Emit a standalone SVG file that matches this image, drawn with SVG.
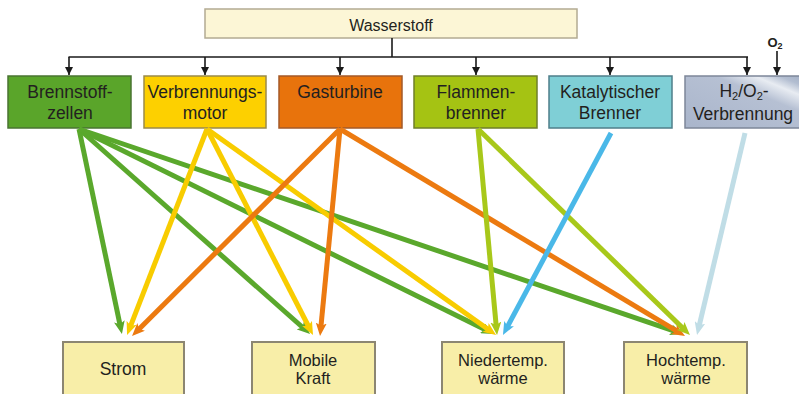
<svg xmlns="http://www.w3.org/2000/svg" width="799" height="394" viewBox="0 0 799 394">
<style>
  text { font-family: "Liberation Sans", Arial, sans-serif; fill: #231f20; }
  .lbl { font-size: 17.5px; text-anchor: middle; }
  .lb2 { font-size: 16.5px; text-anchor: middle; }
  .top { stroke-width: 1.5; }
  .bot { fill: #f8eea8; stroke: #8c8672; stroke-width: 2; }
  .bus { stroke: #1a1a1a; stroke-width: 1.6; fill: none; }
  .arr { stroke-width: 5; fill: none; stroke-linecap: butt; }
  .sub { font-size: 11px; }
</style>
<defs>
  <marker id="mk" viewBox="0 0 8 8" refX="8" refY="4" markerWidth="8" markerHeight="8" markerUnits="userSpaceOnUse" orient="auto">
    <path d="M0,0 L8,4 L0,8 z" fill="#1a1a1a"/>
  </marker>
  <marker id="aG" viewBox="0 0 13 11" refX="4" refY="5.5" markerWidth="13" markerHeight="11" markerUnits="userSpaceOnUse" orient="auto"><path d="M0,0 L13,5.5 L0,11 L3,5.5 z" fill="#5aa82c"/></marker>
  <marker id="aY" viewBox="0 0 13 11" refX="4" refY="5.5" markerWidth="13" markerHeight="11" markerUnits="userSpaceOnUse" orient="auto"><path d="M0,0 L13,5.5 L0,11 L3,5.5 z" fill="#f8cc00"/></marker>
  <marker id="aO" viewBox="0 0 13 11" refX="4" refY="5.5" markerWidth="13" markerHeight="11" markerUnits="userSpaceOnUse" orient="auto"><path d="M0,0 L13,5.5 L0,11 L3,5.5 z" fill="#ec7a10"/></marker>
  <marker id="aL" viewBox="0 0 13 11" refX="4" refY="5.5" markerWidth="13" markerHeight="11" markerUnits="userSpaceOnUse" orient="auto"><path d="M0,0 L13,5.5 L0,11 L3,5.5 z" fill="#a8c81a"/></marker>
  <marker id="aB" viewBox="0 0 13 11" refX="4" refY="5.5" markerWidth="13" markerHeight="11" markerUnits="userSpaceOnUse" orient="auto"><path d="M0,0 L13,5.5 L0,11 L3,5.5 z" fill="#4ab8e8"/></marker>
  <marker id="aP" viewBox="0 0 13 11" refX="4" refY="5.5" markerWidth="13" markerHeight="11" markerUnits="userSpaceOnUse" orient="auto"><path d="M0,0 L13,5.5 L0,11 L3,5.5 z" fill="#c0dde6"/></marker>
  <linearGradient id="gH" x1="0" y1="1" x2="1" y2="0">
    <stop offset="0" stop-color="#a9b5cb"/>
    <stop offset="0.62" stop-color="#b6c0d3"/>
    <stop offset="0.78" stop-color="#e8ecf2"/>
    <stop offset="0.88" stop-color="#b3bed1"/>
    <stop offset="1" stop-color="#9eabc2"/>
  </linearGradient>
</defs>

<g id="wasserstoff">
  <rect x="205" y="9" width="372" height="29" fill="#fcf6d6" stroke="#b3ab92" stroke-width="1.5"/>
  <text x="391" y="31" style="font-size:16px" text-anchor="middle">Wasserstoff</text>
</g>

<g id="connectors-top">
  <line class="bus" x1="392" y1="38" x2="392" y2="57"/>
  <line class="bus" x1="68.5" y1="57" x2="748" y2="57"/>
  <line class="bus" x1="69" y1="57" x2="69" y2="75" marker-end="url(#mk)"/>
  <line class="bus" x1="205" y1="57" x2="205" y2="75" marker-end="url(#mk)"/>
  <line class="bus" x1="340" y1="57" x2="340" y2="75" marker-end="url(#mk)"/>
  <line class="bus" x1="476" y1="57" x2="476" y2="75" marker-end="url(#mk)"/>
  <line class="bus" x1="610" y1="57" x2="610" y2="75" marker-end="url(#mk)"/>
  <line class="bus" x1="747" y1="57" x2="747" y2="75" marker-end="url(#mk)"/>
  <line class="bus" x1="777" y1="51" x2="777" y2="75" marker-end="url(#mk)"/>
  <text x="775" y="47" style="font-size:13px;font-weight:bold" text-anchor="middle">O<tspan style="font-size:9px" dy="2">2</tspan></text>
</g>

<g id="brennstoffzellen">
  <rect class="top" x="8" y="76" width="123" height="52" fill="#5aa52a" stroke="#4a7432"/>
  <text class="lbl" x="70" y="98">Brennstoff-</text>
  <text class="lbl" x="70" y="119">zellen</text>
</g>
<g id="verbrennungsmotor">
  <rect class="top" x="144" y="76" width="122" height="52" fill="#fdd000" stroke="#9b8a4a"/>
  <text class="lbl" x="205" y="98">Verbrennungs-</text>
  <text class="lbl" x="205" y="119">motor</text>
</g>
<g id="gasturbine">
  <rect class="top" x="279" y="76" width="123" height="52" fill="#e8730c" stroke="#a45a28"/>
  <text class="lbl" x="340" y="98">Gasturbine</text>
</g>
<g id="flammenbrenner">
  <rect class="top" x="414" y="76" width="123" height="52" fill="#a5c313" stroke="#6f7f2a"/>
  <text class="lbl" x="476" y="98">Flammen-</text>
  <text class="lbl" x="476" y="119">brenner</text>
</g>
<g id="katalytischer-brenner">
  <rect class="top" x="549" y="76" width="123" height="52" fill="#7fcfd6" stroke="#4f7f8a"/>
  <text class="lbl" x="610" y="98">Katalytischer</text>
  <text class="lbl" x="610" y="119">Brenner</text>
</g>
<g id="h2o2-verbrennung">
  <rect class="top" x="685" y="76" width="124" height="52" fill="url(#gH)" stroke="#7d8799"/>
  <text class="lbl" x="744" y="97">H<tspan class="sub" dy="3">2</tspan><tspan dy="-3">/O</tspan><tspan class="sub" dy="3">2</tspan><tspan dy="-3">-</tspan></text>
  <text class="lbl" x="743" y="120">Verbrennung</text>
</g>

<g id="strom">
  <rect class="bot" x="63" y="342" width="121" height="60"/>
  <text class="lbl" x="123" y="375">Strom</text>
</g>
<g id="mobile-kraft">
  <rect class="bot" x="252" y="342" width="123" height="60"/>
  <text class="lb2" x="313" y="366">Mobile</text>
  <text class="lb2" x="313" y="384">Kraft</text>
</g>
<g id="niedertemp-waerme">
  <rect class="bot" x="442" y="342" width="122" height="60"/>
  <text class="lb2" x="503" y="366">Niedertemp.</text>
  <text class="lb2" x="503" y="384">wärme</text>
</g>
<g id="hochtemp-waerme">
  <rect class="bot" x="624" y="342" width="123" height="60"/>
  <text class="lb2" x="686" y="366">Hochtemp.</text>
  <text class="lb2" x="686" y="384">wärme</text>
</g>

<g id="connectors">
  <line class="arr" stroke="#5aa82c" x1="79" y1="129" x2="120.1" y2="325.2" marker-end="url(#aG)"/>
  <line class="arr" stroke="#5aa82c" x1="79" y1="129" x2="303.3" y2="328.0" marker-end="url(#aG)"/>
  <line class="arr" stroke="#5aa82c" x1="79" y1="129" x2="485.9" y2="330.0" marker-end="url(#aG)"/>
  <line class="arr" stroke="#5aa82c" x1="79" y1="129" x2="674.5" y2="331.1" marker-end="url(#aG)"/>
  <line class="arr" stroke="#f8cc00" x1="207" y1="129" x2="130.3" y2="326.6" marker-end="url(#aY)"/>
  <line class="arr" stroke="#f8cc00" x1="207" y1="129" x2="308.9" y2="327.0" marker-end="url(#aY)"/>
  <line class="arr" stroke="#f8cc00" x1="207" y1="129" x2="488.7" y2="329.8" marker-end="url(#aY)"/>
  <line class="arr" stroke="#ec7a10" x1="340" y1="129" x2="138.4" y2="329.7" marker-end="url(#aO)"/>
  <line class="arr" stroke="#ec7a10" x1="340" y1="129" x2="320.9" y2="327.0" marker-end="url(#aO)"/>
  <line class="arr" stroke="#ec7a10" x1="340" y1="129" x2="677.3" y2="331.4" marker-end="url(#aO)"/>
  <line class="arr" stroke="#a8c81a" x1="478" y1="129" x2="496.2" y2="326.0" marker-end="url(#aL)"/>
  <line class="arr" stroke="#a8c81a" x1="478" y1="129" x2="683.5" y2="328.7" marker-end="url(#aL)"/>
  <line class="arr" stroke="#4ab8e8" x1="611" y1="133" x2="507.2" y2="327.1" marker-end="url(#aB)"/>
  <line class="arr" stroke="#c0dde6" x1="745" y1="133" x2="699.1" y2="326.2" marker-end="url(#aP)"/>
</g>
</svg>
